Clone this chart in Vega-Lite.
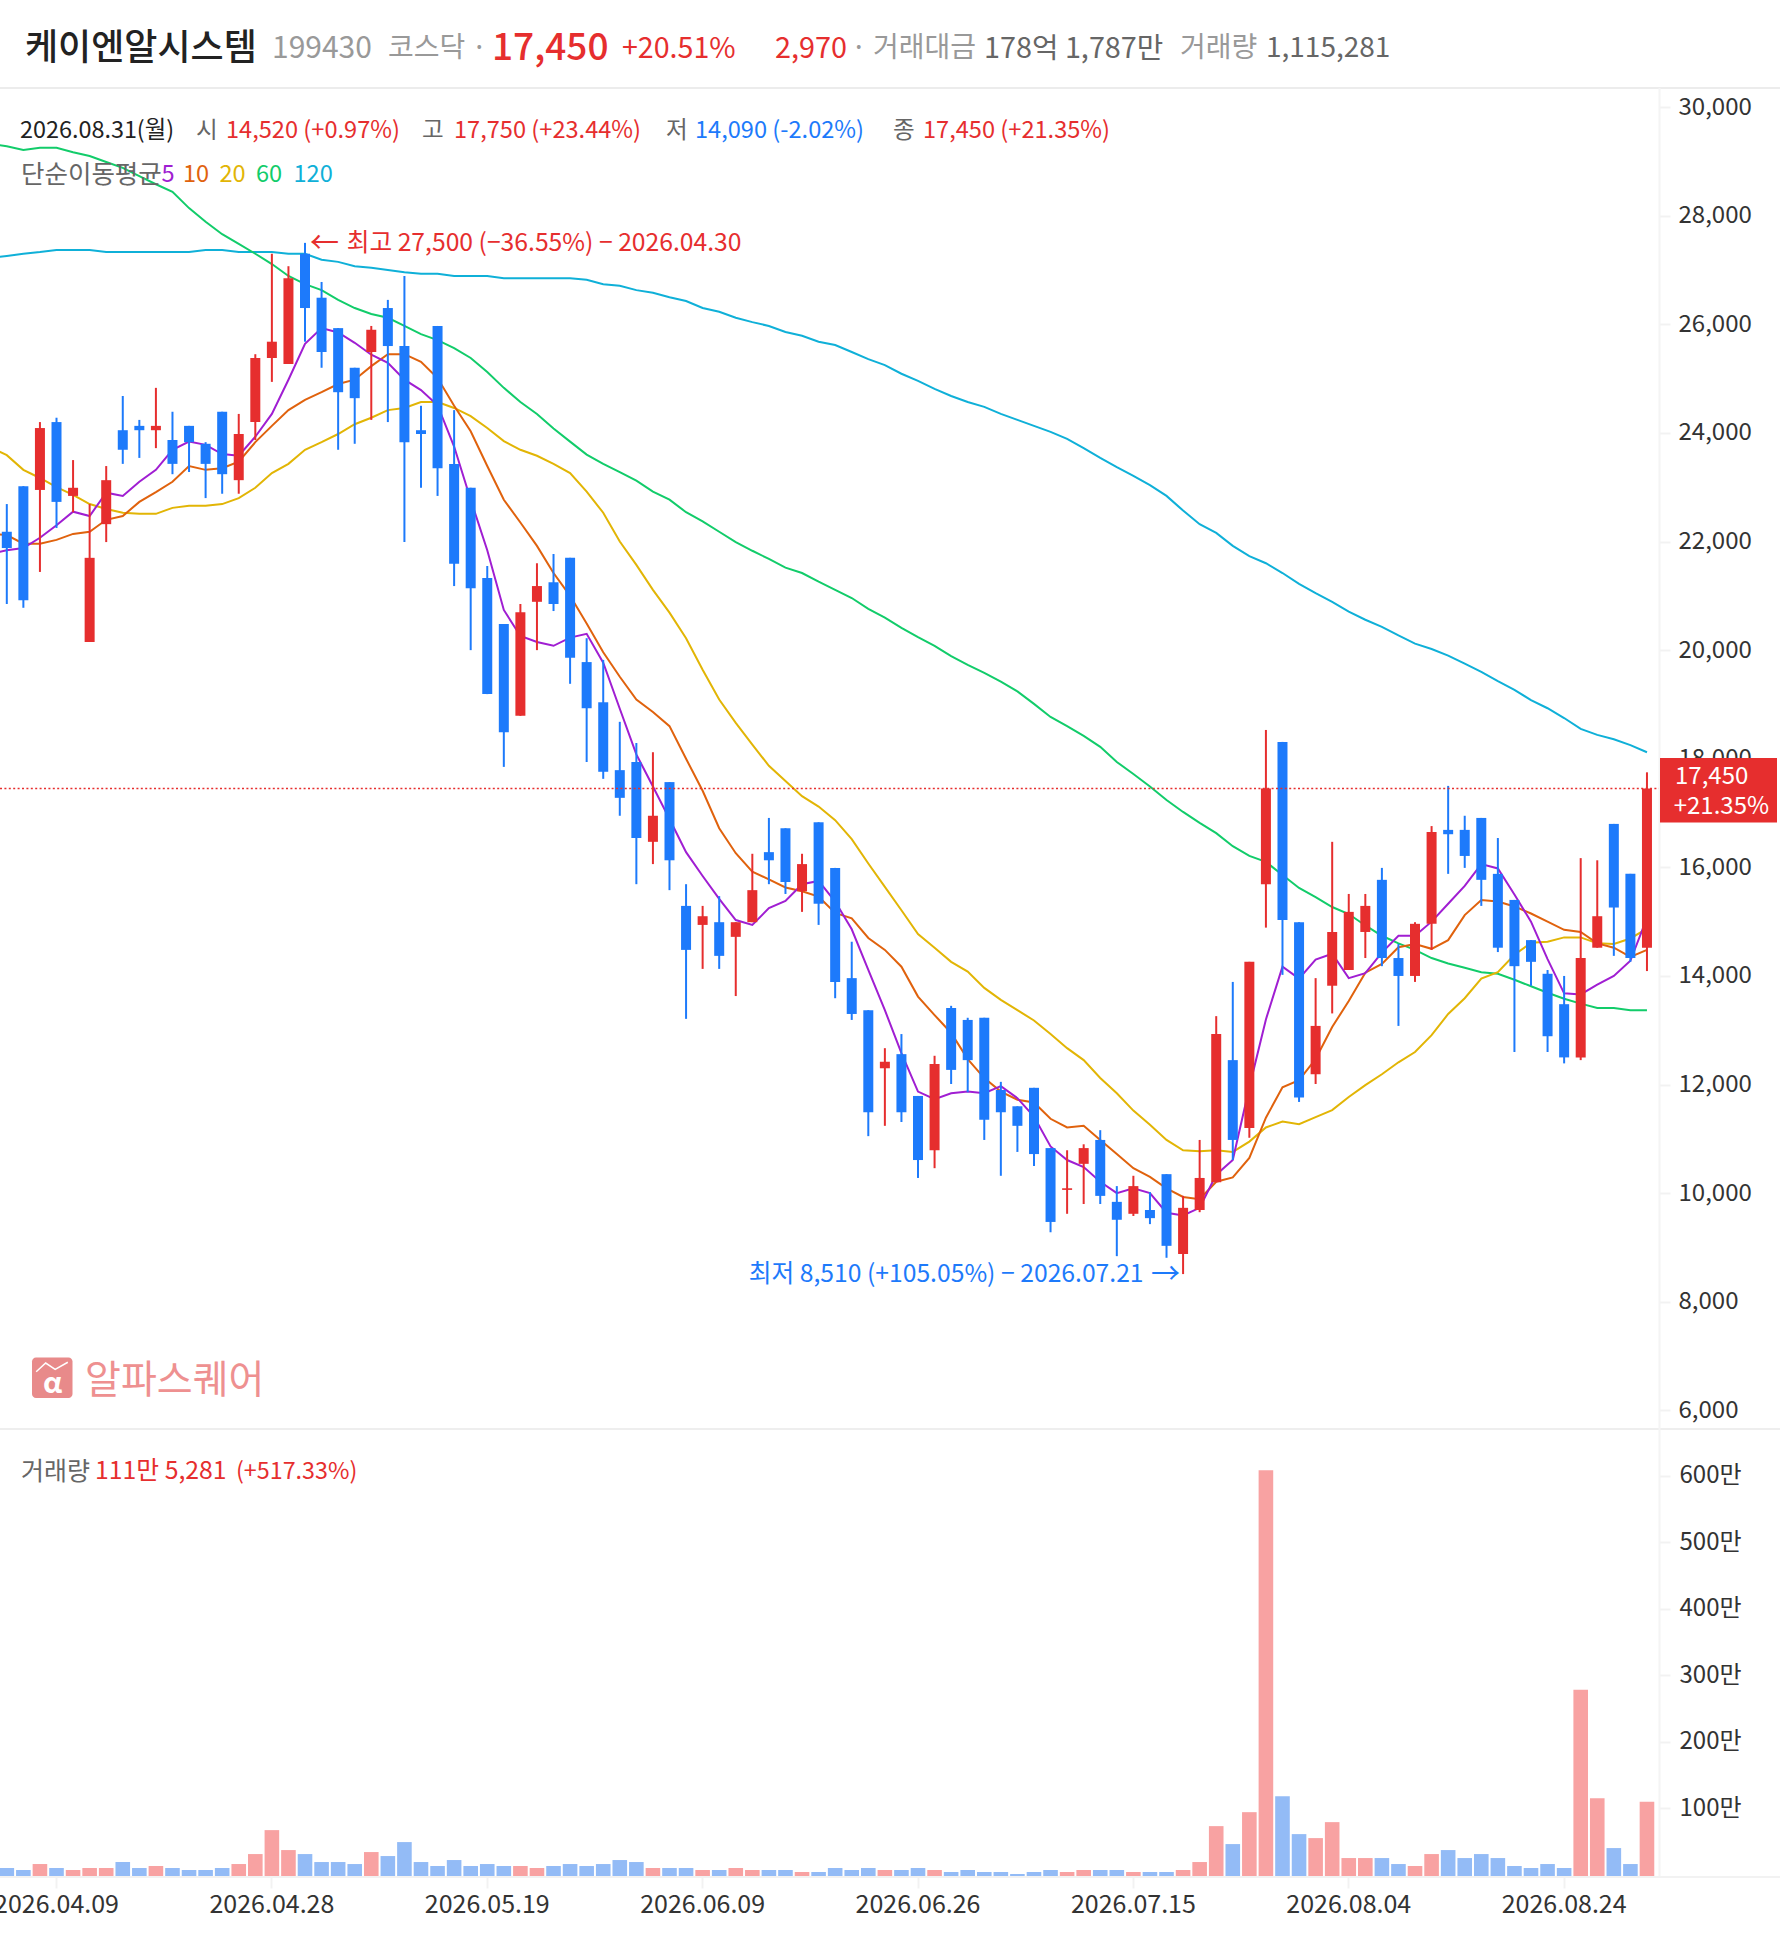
{"$schema":"https://vega.github.io/schema/vega-lite/v6.json","autosize":{"type":"none"},"padding":{"left":0,"top":88,"right":121,"bottom":58},"width":1659,"height":1788,"background":"white",
"config":{"view":{"stroke":null},"font":"Noto Sans CJK KR","text":{"font":"Noto Sans CJK KR","align":"left","baseline":"middle","fontSize":23.6},"axis":{"labelFont":"Noto Sans CJK KR"}},
"datasets":{"one":[{}],"rows":[
{"date":"2026.04.03","m5":21770,"m10":22140,"m20":23740,"m60":29320,"m120":27220},
{"date":"2026.04.06","o":22180,"h":22690,"l":20850,"c":21880,"v":120000,"m5":21840,"m10":22120,"m20":23590,"m60":29280,"m120":27260},
{"date":"2026.04.07","o":23020,"h":23020,"l":20780,"c":20920,"v":90000,"m5":21880,"m10":21960,"m20":23320,"m60":29210,"m120":27300},
{"date":"2026.04.08","o":22950,"h":24200,"l":21440,"c":24090,"v":180000,"m5":22070,"m10":21960,"m20":23170,"m60":29250,"m120":27330},
{"date":"2026.04.09","o":24200,"h":24280,"l":22250,"c":22730,"v":120000,"m5":22300,"m10":22030,"m20":23000,"m60":29250,"m120":27370},
{"date":"2026.04.10","o":22840,"h":23500,"l":22540,"c":22990,"v":90000,"m5":22550,"m10":22140,"m20":22860,"m60":29170,"m120":27370},
{"date":"2026.04.13","o":20150,"h":22690,"l":20150,"c":21700,"v":120000,"m5":22470,"m10":22180,"m20":22690,"m60":29100,"m120":27370},
{"date":"2026.04.14","o":22320,"h":23390,"l":21990,"c":23130,"v":120000,"m5":22900,"m10":22400,"m20":22600,"m60":28990,"m120":27330},
{"date":"2026.04.15","o":24050,"h":24680,"l":23430,"c":23690,"v":210000,"m5":22840,"m10":22470,"m20":22530,"m60":28880,"m120":27330},
{"date":"2026.04.16","o":24130,"h":24240,"l":23540,"c":24050,"v":120000,"m5":23100,"m10":22730,"m20":22510,"m60":28730,"m120":27330},
{"date":"2026.04.17","o":24050,"h":24830,"l":23720,"c":24130,"v":150000,"m5":23320,"m10":22910,"m20":22510,"m60":28580,"m120":27330},
{"date":"2026.04.20","o":23870,"h":24390,"l":23240,"c":23430,"v":120000,"m5":23690,"m10":23100,"m20":22620,"m60":28440,"m120":27330},
{"date":"2026.04.21","o":24130,"h":24130,"l":23280,"c":23830,"v":90000,"m5":23840,"m10":23390,"m20":22660,"m60":28140,"m120":27330},
{"date":"2026.04.22","o":23800,"h":23830,"l":22800,"c":23430,"v":90000,"m5":23780,"m10":23320,"m20":22660,"m60":27890,"m120":27370},
{"date":"2026.04.23","o":24390,"h":24390,"l":22880,"c":23240,"v":120000,"m5":23610,"m10":23350,"m20":22690,"m60":27660,"m120":27370},
{"date":"2026.04.24","o":23130,"h":24350,"l":22880,"c":23980,"v":180000,"m5":23580,"m10":23470,"m20":22800,"m60":27480,"m120":27330},
{"date":"2026.04.27","o":24200,"h":25450,"l":23870,"c":25380,"v":330000,"m5":23930,"m10":23830,"m20":22990,"m60":27300,"m120":27330},
{"date":"2026.04.28","o":25380,"h":27300,"l":24940,"c":25680,"v":690000,"m5":24350,"m10":24130,"m20":23260,"m60":27110,"m120":27330},
{"date":"2026.04.29","o":25270,"h":27070,"l":25270,"c":26850,"v":390000,"m5":24980,"m10":24420,"m20":23430,"m60":26890,"m120":27300},
{"date":"2026.04.30","o":27300,"h":27500,"l":25680,"c":26300,"v":330000,"m5":25640,"m10":24610,"m20":23690,"m60":26740,"m120":27300},
{"date":"2026.05.04","o":26490,"h":26780,"l":25200,"c":25490,"v":210000,"m5":25930,"m10":24750,"m20":23830,"m60":26630,"m120":27190},
{"date":"2026.05.06","o":25930,"h":25930,"l":23690,"c":24750,"v":210000,"m5":25850,"m10":24900,"m20":23980,"m60":26450,"m120":27150},
{"date":"2026.05.07","o":25200,"h":25200,"l":23800,"c":24640,"v":180000,"m5":25660,"m10":24980,"m20":24160,"m60":26300,"m120":27070},
{"date":"2026.05.08","o":25490,"h":25970,"l":24240,"c":25900,"v":360000,"m5":25440,"m10":25230,"m20":24280,"m60":26190,"m120":27040},
{"date":"2026.05.11","o":26300,"h":26450,"l":24200,"c":25600,"v":300000,"m5":25290,"m10":25450,"m20":24420,"m60":26120,"m120":27000},
{"date":"2026.05.12","o":25600,"h":26890,"l":21990,"c":23830,"v":510000,"m5":24980,"m10":25450,"m20":24460,"m60":25970,"m120":26960},
{"date":"2026.05.13","o":24050,"h":24500,"l":22990,"c":23980,"v":210000,"m5":24790,"m10":25310,"m20":24570,"m60":25820,"m120":26930},
{"date":"2026.05.14","o":25970,"h":25970,"l":22840,"c":23350,"v":150000,"m5":24510,"m10":25010,"m20":24570,"m60":25710,"m120":26930},
{"date":"2026.05.15","o":23430,"h":24420,"l":21180,"c":21590,"v":240000,"m5":23750,"m10":24500,"m20":24460,"m60":25560,"m120":26890},
{"date":"2026.05.18","o":22990,"h":22990,"l":20000,"c":21140,"v":150000,"m5":22770,"m10":24030,"m20":24310,"m60":25380,"m120":26890},
{"date":"2026.05.19","o":21330,"h":21550,"l":19190,"c":19190,"v":180000,"m5":21840,"m10":23390,"m20":24090,"m60":25120,"m120":26890},
{"date":"2026.05.20","o":20480,"h":20480,"l":17850,"c":18490,"v":150000,"m5":20740,"m10":22770,"m20":23850,"m60":24830,"m120":26850},
{"date":"2026.05.21","o":18790,"h":20850,"l":18790,"c":20700,"v":150000,"m5":20260,"m10":22350,"m20":23690,"m60":24570,"m120":26850},
{"date":"2026.05.22","o":20890,"h":21600,"l":20000,"c":21180,"v":120000,"m5":20150,"m10":21920,"m20":23580,"m60":24350,"m120":26850},
{"date":"2026.05.26","o":21250,"h":21770,"l":20720,"c":20850,"v":150000,"m5":20080,"m10":21420,"m20":23430,"m60":24080,"m120":26850},
{"date":"2026.05.27","o":21700,"h":21700,"l":19380,"c":19860,"v":180000,"m5":20230,"m10":21000,"m20":23260,"m60":23840,"m120":26850},
{"date":"2026.05.28","o":19780,"h":20220,"l":17940,"c":18930,"v":150000,"m5":20300,"m10":20490,"m20":22920,"m60":23600,"m120":26820},
{"date":"2026.05.29","o":19040,"h":19820,"l":17630,"c":17760,"v":180000,"m5":19770,"m10":19960,"m20":22530,"m60":23430,"m120":26740},
{"date":"2026.06.01","o":17790,"h":18680,"l":16950,"c":17280,"v":240000,"m5":18920,"m10":19510,"m20":22000,"m60":23280,"m120":26710},
{"date":"2026.06.02","o":17940,"h":18290,"l":15690,"c":16540,"v":210000,"m5":18080,"m10":19090,"m20":21570,"m60":23120,"m120":26630},
{"date":"2026.06.04","o":16470,"h":18120,"l":16060,"c":16950,"v":120000,"m5":17490,"m10":18860,"m20":21110,"m60":22920,"m120":26580},
{"date":"2026.06.05","o":17570,"h":17570,"l":15580,"c":16130,"v":120000,"m5":16890,"m10":18600,"m20":20690,"m60":22770,"m120":26500},
{"date":"2026.06.08","o":15290,"h":15690,"l":13210,"c":14480,"v":120000,"m5":16280,"m10":18000,"m20":20220,"m60":22540,"m120":26430},
{"date":"2026.06.09","o":14940,"h":15290,"l":14130,"c":15100,"v":90000,"m5":15840,"m10":17410,"m20":19640,"m60":22370,"m120":26300},
{"date":"2026.06.10","o":14990,"h":15470,"l":14130,"c":14370,"v":90000,"m5":15420,"m10":16720,"m20":19090,"m60":22180,"m120":26230},
{"date":"2026.06.11","o":14720,"h":14990,"l":13630,"c":14990,"v":120000,"m5":15030,"m10":16260,"m20":18660,"m60":21990,"m120":26120},
{"date":"2026.06.12","o":14990,"h":16250,"l":14990,"c":15580,"v":90000,"m5":14940,"m10":15920,"m20":18260,"m60":21830,"m120":26040},
{"date":"2026.06.15","o":16280,"h":16910,"l":15690,"c":16130,"v":90000,"m5":15250,"m10":15780,"m20":17870,"m60":21680,"m120":25970},
{"date":"2026.06.16","o":16720,"h":16720,"l":15510,"c":15730,"v":90000,"m5":15380,"m10":15630,"m20":17590,"m60":21520,"m120":25860},
{"date":"2026.06.17","o":15560,"h":16250,"l":15180,"c":16060,"v":60000,"m5":15690,"m10":15560,"m20":17310,"m60":21420,"m120":25790},
{"date":"2026.06.18","o":16830,"h":16830,"l":14940,"c":15330,"v":60000,"m5":15750,"m10":15460,"m20":17120,"m60":21260,"m120":25680},
{"date":"2026.06.19","o":15990,"h":15990,"l":13590,"c":13890,"v":120000,"m5":15370,"m10":15160,"m20":16870,"m60":21110,"m120":25620},
{"date":"2026.06.22","o":13960,"h":14630,"l":13190,"c":13300,"v":90000,"m5":14860,"m10":15060,"m20":16520,"m60":20960,"m120":25490},
{"date":"2026.06.23","o":13370,"h":13370,"l":11050,"c":11490,"v":120000,"m5":14110,"m10":14700,"m20":16070,"m60":20760,"m120":25360},
{"date":"2026.06.24","o":12300,"h":12670,"l":11240,"c":12420,"v":90000,"m5":13370,"m10":14480,"m20":15640,"m60":20600,"m120":25250},
{"date":"2026.06.25","o":12560,"h":12930,"l":11310,"c":11490,"v":90000,"m5":12580,"m10":14170,"m20":15210,"m60":20410,"m120":25090},
{"date":"2026.06.26","o":11790,"h":11790,"l":10280,"c":10610,"v":120000,"m5":11870,"m10":13620,"m20":14770,"m60":20240,"m120":24960},
{"date":"2026.06.29","o":10790,"h":12530,"l":10460,"c":12380,"v":90000,"m5":11730,"m10":13280,"m20":14520,"m60":20080,"m120":24810},
{"date":"2026.06.30","o":13410,"h":13450,"l":12010,"c":12270,"v":60000,"m5":11840,"m10":12950,"m20":14260,"m60":19890,"m120":24680},
{"date":"2026.07.01","o":13190,"h":13230,"l":11860,"c":12450,"v":90000,"m5":11870,"m10":12470,"m20":14080,"m60":19730,"m120":24570},
{"date":"2026.07.02","o":13230,"h":13230,"l":10980,"c":11350,"v":60000,"m5":11840,"m10":12120,"m20":13780,"m60":19580,"m120":24480},
{"date":"2026.07.03","o":11900,"h":12050,"l":10320,"c":11490,"v":60000,"m5":11970,"m10":11870,"m20":13560,"m60":19420,"m120":24350},
{"date":"2026.07.06","o":11600,"h":11600,"l":10760,"c":11240,"v":30000,"m5":11750,"m10":11720,"m20":13370,"m60":19240,"m120":24240},
{"date":"2026.07.07","o":11940,"h":11940,"l":10500,"c":10720,"v":60000,"m5":11410,"m10":11670,"m20":13180,"m60":19010,"m120":24130},
{"date":"2026.07.08","o":10830,"h":10830,"l":9280,"c":9470,"v":90000,"m5":10860,"m10":11370,"m20":12930,"m60":18770,"m120":24020},
{"date":"2026.07.09","o":10060,"h":10790,"l":9620,"c":10090,"v":60000,"m5":10610,"m10":11210,"m20":12670,"m60":18600,"m120":23890},
{"date":"2026.07.10","o":10540,"h":10900,"l":9800,"c":10830,"v":90000,"m5":10480,"m10":11240,"m20":12450,"m60":18420,"m120":23720},
{"date":"2026.07.13","o":10980,"h":11160,"l":9800,"c":9950,"v":90000,"m5":10210,"m10":10980,"m20":12120,"m60":18220,"m120":23540},
{"date":"2026.07.14","o":9840,"h":10130,"l":8840,"c":9510,"v":90000,"m5":10000,"m10":10720,"m20":11840,"m60":17940,"m120":23370},
{"date":"2026.07.15","o":9620,"h":10320,"l":9580,"c":10130,"v":60000,"m5":10090,"m10":10460,"m20":11520,"m60":17720,"m120":23210},
{"date":"2026.07.16","o":9690,"h":10020,"l":9430,"c":9540,"v":60000,"m5":10000,"m10":10300,"m20":11260,"m60":17490,"m120":23040},
{"date":"2026.07.20","o":10350,"h":10350,"l":8810,"c":9030,"v":60000,"m5":9640,"m10":10090,"m20":10980,"m60":17240,"m120":22840},
{"date":"2026.07.21","o":8880,"h":9950,"l":8510,"c":9730,"v":90000,"m5":9590,"m10":9930,"m20":10790,"m60":17020,"m120":22570},
{"date":"2026.07.22","o":9690,"h":10980,"l":9650,"c":10280,"v":210000,"m5":9730,"m10":9890,"m20":10770,"m60":16820,"m120":22320},
{"date":"2026.07.23","o":10200,"h":13260,"l":10200,"c":12930,"v":750000,"m5":10340,"m10":10210,"m20":10790,"m60":16630,"m120":22160},
{"date":"2026.07.24","o":12450,"h":13890,"l":10610,"c":10980,"v":480000,"m5":10610,"m10":10290,"m20":10760,"m60":16390,"m120":21920},
{"date":"2026.07.27","o":11200,"h":14260,"l":11020,"c":14260,"v":960000,"m5":11950,"m10":10650,"m20":10950,"m60":16210,"m120":21730},
{"date":"2026.07.28","o":15690,"h":18530,"l":14890,"c":17450,"v":6100000,"m5":13200,"m10":11390,"m20":11210,"m60":16100,"m120":21600},
{"date":"2026.07.29","o":18310,"h":18310,"l":14020,"c":15030,"v":1200000,"m5":14170,"m10":11950,"m20":11320,"m60":15860,"m120":21420},
{"date":"2026.07.30","o":14990,"h":14990,"l":11680,"c":11760,"v":630000,"m5":13950,"m10":12080,"m20":11270,"m60":15620,"m120":21220},
{"date":"2026.07.31","o":12190,"h":13960,"l":12010,"c":13080,"v":570000,"m5":14300,"m10":12470,"m20":11400,"m60":15450,"m120":21050},
{"date":"2026.08.03","o":13820,"h":16470,"l":13310,"c":14810,"v":810000,"m5":14410,"m10":13060,"m20":11530,"m60":15270,"m120":20890},
{"date":"2026.08.04","o":14110,"h":15510,"l":14110,"c":15180,"v":270000,"m5":13960,"m10":13540,"m20":11770,"m60":15140,"m120":20710},
{"date":"2026.08.05","o":14810,"h":15510,"l":14330,"c":15290,"v":270000,"m5":14050,"m10":14060,"m20":11990,"m60":14930,"m120":20560},
{"date":"2026.08.06","o":15770,"h":15990,"l":14180,"c":14330,"v":270000,"m5":14430,"m10":14220,"m20":12190,"m60":14740,"m120":20430},
{"date":"2026.08.07","o":14330,"h":14590,"l":13080,"c":14000,"v":180000,"m5":14740,"m10":14530,"m20":12410,"m60":14600,"m120":20270},
{"date":"2026.08.10","o":14000,"h":14990,"l":13890,"c":14960,"v":150000,"m5":14740,"m10":14590,"m20":12600,"m60":14480,"m120":20120},
{"date":"2026.08.11","o":14960,"h":16760,"l":14480,"c":16650,"v":330000,"m5":15000,"m10":14500,"m20":12910,"m60":14330,"m120":20020},
{"date":"2026.08.12","o":16690,"h":17500,"l":15880,"c":16610,"v":390000,"m5":15330,"m10":14660,"m20":13300,"m60":14230,"m120":19900},
{"date":"2026.08.13","o":16690,"h":16950,"l":15990,"c":16210,"v":270000,"m5":15660,"m10":15120,"m20":13590,"m60":14150,"m120":19750},
{"date":"2026.08.14","o":16910,"h":16910,"l":15290,"c":15770,"v":330000,"m5":16060,"m10":15400,"m20":13950,"m60":14070,"m120":19600},
{"date":"2026.08.18","o":15880,"h":16540,"l":14440,"c":14520,"v":270000,"m5":15980,"m10":15370,"m20":14070,"m60":14040,"m120":19430},
{"date":"2026.08.19","o":15400,"h":15400,"l":12600,"c":14180,"v":150000,"m5":15500,"m10":15280,"m20":14390,"m60":13930,"m120":19270},
{"date":"2026.08.20","o":14660,"h":14660,"l":13820,"c":14260,"v":120000,"m5":15000,"m10":15150,"m20":14610,"m60":13810,"m120":19080},
{"date":"2026.08.21","o":14040,"h":14110,"l":12600,"c":12890,"v":180000,"m5":14310,"m10":15000,"m20":14630,"m60":13690,"m120":18930},
{"date":"2026.08.24","o":13480,"h":14000,"l":12390,"c":12500,"v":120000,"m5":13680,"m10":14850,"m20":14710,"m60":13580,"m120":18750},
{"date":"2026.08.25","o":12500,"h":16170,"l":12450,"c":14330,"v":2800000,"m5":13660,"m10":14810,"m20":14710,"m60":13490,"m120":18550},
{"date":"2026.08.26","o":14520,"h":16130,"l":14520,"c":15100,"v":1170000,"m5":13840,"m10":14600,"m20":14600,"m60":13410,"m120":18440},
{"date":"2026.08.27","o":16800,"h":16800,"l":14370,"c":15260,"v":420000,"m5":14000,"m10":14520,"m20":14590,"m60":13410,"m120":18360},
{"date":"2026.08.28","o":15880,"h":15880,"l":14260,"c":14330,"v":180000,"m5":14280,"m10":14350,"m20":14690,"m60":13370,"m120":18250},
{"date":"2026.08.31","o":14520,"h":17750,"l":14090,"c":17450,"v":1115281,"m5":15070,"m10":14480,"m20":14870,"m60":13370,"m120":18120}
]},
"resolve":{"scale":{"y":"independent"},"axis":{"y":"independent"}},
"layer":[
{"data":{"name":"rows"},"mark":{"type":"bar","size":14.6,"clip":true},"encoding":{
"x":{"field":"date","type":"ordinal","scale":{"type":"band","range":[-18.05,1655.25],"paddingInner":0,"paddingOuter":0},"axis":{"values":["2026.04.09","2026.04.28","2026.05.19","2026.06.09","2026.06.26","2026.07.15","2026.08.04","2026.08.24"],"title":null,"domain":false,"tickColor":"#f2f2f2","tickWidth":2,"tickSize":12,"labelFontSize":25,"labelColor":"#333333","labelAngle":0,"labelPadding":4,"labelOverlap":false,"labelBound":false,"labelFlush":false,"labelBaseline":"top","grid":false}},
"y":{"field":"v","type":"quantitative","stack":null,"scale":{"domain":[0,6721800],"range":[1788,1341]},"axis":{"orient":"right","values":[1000000,2000000,3000000,4000000,5000000,6000000],"labelExpr":"(datum.value/10000)+'만'","title":null,"domain":false,"grid":false,"tickOffset":-1,"tickColor":"#f2f2f2","tickWidth":2,"tickSize":11,"labelFontSize":24,"labelColor":"#333333","labelPadding":9,"labelAlign":"left","labelOverlap":false,"labelBound":false,"labelFlush":false}},
"color":{"condition":{"test":"datum.c>=datum.o","value":"#f8a2a2"},"value":"#93bbf6"}}},
{"data":{"name":"rows"},"layer":[
{"mark":{"type":"line","color":"#0fb0d8","strokeWidth":2,"clip":true},"encoding":{"x":{"field":"date","type":"ordinal"},"y":{"field":"m120","type":"quantitative","scale":{"domain":[5657,30352],"range":[1341,0]},"axis":{"orient":"right","values":[6000,8000,10000,12000,14000,16000,18000,20000,22000,24000,26000,28000,30000],"format":",d","title":null,"domain":false,"grid":false,"tickColor":"#f2f2f2","tickWidth":2,"tickSize":11,"labelFontSize":24,"labelColor":"#333333","labelPadding":8,"labelAlign":"left","labelOverlap":false,"labelBound":false,"labelFlush":false}}}},
{"mark":{"type":"line","color":"#12cc6a","strokeWidth":2,"clip":true},"encoding":{"x":{"field":"date","type":"ordinal"},"y":{"field":"m60","type":"quantitative","scale":{"domain":[5657,30352],"range":[1341,0]}}}},
{"mark":{"type":"line","color":"#e2b505","strokeWidth":2,"clip":true},"encoding":{"x":{"field":"date","type":"ordinal"},"y":{"field":"m20","type":"quantitative","scale":{"domain":[5657,30352],"range":[1341,0]}}}},
{"mark":{"type":"line","color":"#e0620d","strokeWidth":2,"clip":true},"encoding":{"x":{"field":"date","type":"ordinal"},"y":{"field":"m10","type":"quantitative","scale":{"domain":[5657,30352],"range":[1341,0]}}}},
{"mark":{"type":"line","color":"#a01ed2","strokeWidth":2,"clip":true},"encoding":{"x":{"field":"date","type":"ordinal"},"y":{"field":"m5","type":"quantitative","scale":{"domain":[5657,30352],"range":[1341,0]}}}},
{"mark":{"type":"rule","strokeWidth":2},"encoding":{"x":{"field":"date","type":"ordinal"},"y":{"field":"h","type":"quantitative","scale":{"domain":[5657,30352],"range":[1341,0]}},"y2":{"field":"l"},"color":{"condition":{"test":"datum.c>=datum.o","value":"#e62e2e"},"value":"#1d7afb"}}},
{"mark":{"type":"bar","size":10},"encoding":{"x":{"field":"date","type":"ordinal"},"y":{"field":"o","type":"quantitative","stack":null,"scale":{"domain":[5657,30352],"range":[1341,0]}},"y2":{"field":"c"},"color":{"condition":{"test":"datum.c>=datum.o","value":"#e62e2e"},"value":"#1d7afb"}}},
{"data":{"name":"one"},"mark":{"type":"rule","color":"#e62e2e","strokeWidth":1.5,"strokeDash":[2,2.4]},"encoding":{"x":{"value":0},"x2":{"value":1660},"y":{"datum":17450,"type":"quantitative","scale":{"domain":[5657,30352],"range":[1341,0]}}}},
{"data":{"name":"one"},"mark":{"type":"text","text":"←","color":"#e62e2e","dx":5,"dy":1,"fontSize":29},"encoding":{"x":{"datum":"2026.04.30","type":"ordinal"},"y":{"datum":27500,"type":"quantitative","scale":{"domain":[5657,30352],"range":[1341,0]}}}},
{"data":{"name":"one"},"mark":{"type":"text","text":"최고 27,500 (−36.55%) − 2026.04.30","color":"#e62e2e","dx":41.7,"dy":1,"fontSize":24.7},"encoding":{"x":{"datum":"2026.04.30","type":"ordinal"},"y":{"datum":27500,"type":"quantitative","scale":{"domain":[5657,30352],"range":[1341,0]}}}},
{"data":{"name":"one"},"mark":{"type":"text","text":"→","color":"#1d7afb","align":"right","dx":-3,"dy":1,"fontSize":29},"encoding":{"x":{"datum":"2026.07.21","type":"ordinal"},"y":{"datum":8510,"type":"quantitative","scale":{"domain":[5657,30352],"range":[1341,0]}}}},
{"data":{"name":"one"},"mark":{"type":"text","text":"최저 8,510 (+105.05%) − 2026.07.21","color":"#1d7afb","align":"right","dx":-39.5,"dy":1,"fontSize":24.7},"encoding":{"x":{"datum":"2026.07.21","type":"ordinal"},"y":{"datum":8510,"type":"quantitative","scale":{"domain":[5657,30352],"range":[1341,0]}}}}
]},
{"data":{"name":"one"},"mark":{"type":"rule","color":"#ececec","strokeWidth":2},"encoding":{"x":{"value":0},"x2":{"value":1780},"y":{"value":0}}},
{"data":{"name":"one"},"mark":{"type":"rule","color":"#eeeeee","strokeWidth":2},"encoding":{"x":{"value":0},"x2":{"value":1780},"y":{"value":1341}}},
{"data":{"name":"one"},"mark":{"type":"rule","color":"#f2f2f2","strokeWidth":2},"encoding":{"x":{"value":0},"x2":{"value":1780},"y":{"value":1789}}},
{"data":{"name":"one"},"mark":{"type":"rule","color":"#f4f4f4","strokeWidth":2},"encoding":{"x":{"value":1659.5},"y":{"value":0},"y2":{"value":1788}}},
{"data":{"name":"one"},"mark":{"type":"rect","color":"#e62e2e"},"encoding":{"x":{"value":1660},"x2":{"value":1777},"y":{"value":670},"y2":{"value":734.5}}},
{"data":{"name":"one"},"mark":{"type":"text","text":"17,450","x":1675,"y":689,"color":"white","fontSize":24}},
{"data":{"name":"one"},"mark":{"type":"text","text":"+21.35%","x":1673.7,"y":719,"color":"white","fontSize":24}},
{"data":{"name":"one"},"mark":{"type":"text","text":"케이엔알시스템","x":25,"y":-39,"fontSize":36,"fontWeight":500,"color":"#222222"}},
{"data":{"name":"one"},"mark":{"type":"text","text":"199430","x":272,"y":-39,"fontSize":30,"color":"#999999"}},
{"data":{"name":"one"},"mark":{"type":"text","text":"코스닥 ·","x":388,"y":-39,"fontSize":28,"color":"#999999"}},
{"data":{"name":"one"},"mark":{"type":"text","text":"17,450","x":492,"y":-39,"fontSize":37,"fontWeight":500,"color":"#e62e2e"}},
{"data":{"name":"one"},"mark":{"type":"text","text":"+20.51%","x":622,"y":-39,"fontSize":28.6,"color":"#e62e2e"}},
{"data":{"name":"one"},"mark":{"type":"text","text":"2,970","x":775,"y":-39,"fontSize":28.8,"color":"#e62e2e"}},
{"data":{"name":"one"},"mark":{"type":"text","text":"· 거래대금","x":851,"y":-39,"fontSize":28,"color":"#999999"}},
{"data":{"name":"one"},"mark":{"type":"text","text":"178억 1,787만","x":984,"y":-39,"fontSize":28.8,"color":"#666666"}},
{"data":{"name":"one"},"mark":{"type":"text","text":"거래량","x":1180,"y":-39,"fontSize":28,"color":"#999999"}},
{"data":{"name":"one"},"mark":{"type":"text","text":"1,115,281","x":1266,"y":-39,"fontSize":28,"color":"#666666"}},
{"data":{"name":"one"},"mark":{"type":"text","text":"2026.08.31(월)","x":20,"y":42.5,"fontSize":23.4,"color":"#222222"}},
{"data":{"name":"one"},"mark":{"type":"text","text":"시","x":196,"y":42.5,"color":"#666666"}},
{"data":{"name":"one"},"mark":{"type":"text","text":"14,520 (+0.97%)","x":226,"y":42.5,"color":"#e62e2e"}},
{"data":{"name":"one"},"mark":{"type":"text","text":"고","x":422,"y":42.5,"color":"#666666"}},
{"data":{"name":"one"},"mark":{"type":"text","text":"17,750 (+23.44%)","x":454,"y":42.5,"color":"#e62e2e"}},
{"data":{"name":"one"},"mark":{"type":"text","text":"저","x":666,"y":42.5,"color":"#666666"}},
{"data":{"name":"one"},"mark":{"type":"text","text":"14,090 (-2.02%)","x":695,"y":42.5,"color":"#1d7afb"}},
{"data":{"name":"one"},"mark":{"type":"text","text":"종","x":893,"y":42.5,"color":"#666666"}},
{"data":{"name":"one"},"mark":{"type":"text","text":"17,450 (+21.35%)","x":923,"y":42.5,"color":"#e62e2e"}},
{"data":{"name":"one"},"mark":{"type":"text","text":"단순이동평균","x":21,"y":86.5,"fontSize":25.5,"color":"#666666"}},
{"data":{"name":"one"},"mark":{"type":"text","text":"5","x":161.5,"y":86.5,"color":"#a01ed2"}},
{"data":{"name":"one"},"mark":{"type":"text","text":"10","x":183,"y":86.5,"color":"#e0620d"}},
{"data":{"name":"one"},"mark":{"type":"text","text":"20","x":219.5,"y":86.5,"color":"#e2b505"}},
{"data":{"name":"one"},"mark":{"type":"text","text":"60","x":256,"y":86.5,"color":"#12cc6a"}},
{"data":{"name":"one"},"mark":{"type":"text","text":"120","x":293.5,"y":86.5,"color":"#0fb0d8"}},
{"data":{"name":"one"},"mark":{"type":"rect","color":"#e88a8a","cornerRadius":4},"encoding":{"x":{"value":32},"x2":{"value":72.5},"y":{"value":1269.5},"y2":{"value":1310}}},
{"data":{"name":"one"},"mark":{"type":"text","text":"α","x":43,"y":1296,"color":"white","fontSize":29,"fontWeight":"bold"}},
{"data":{"name":"one"},"mark":{"type":"point","shape":"M-1,0.3 L-0.4,-0.25 L0.2,0.15 L1,-0.3","filled":false,"stroke":"white","strokeWidth":1.5,"opacity":1,"size":1000,"x":52,"y":1279}},
{"data":{"name":"one"},"mark":{"type":"text","text":"알파스퀘어","x":85,"y":1292.5,"color":"#ee9090","fontSize":39}},
{"data":{"name":"one"},"mark":{"type":"text","text":"거래량","x":21,"y":1384,"color":"#666666","fontSize":25}},
{"data":{"name":"one"},"mark":{"type":"text","text":"111만 5,281","x":95,"y":1384,"color":"#e62e2e","fontSize":24.8}},
{"data":{"name":"one"},"mark":{"type":"text","text":"(+517.33%)","x":236,"y":1384,"color":"#e62e2e","fontSize":23.3}}
]}
